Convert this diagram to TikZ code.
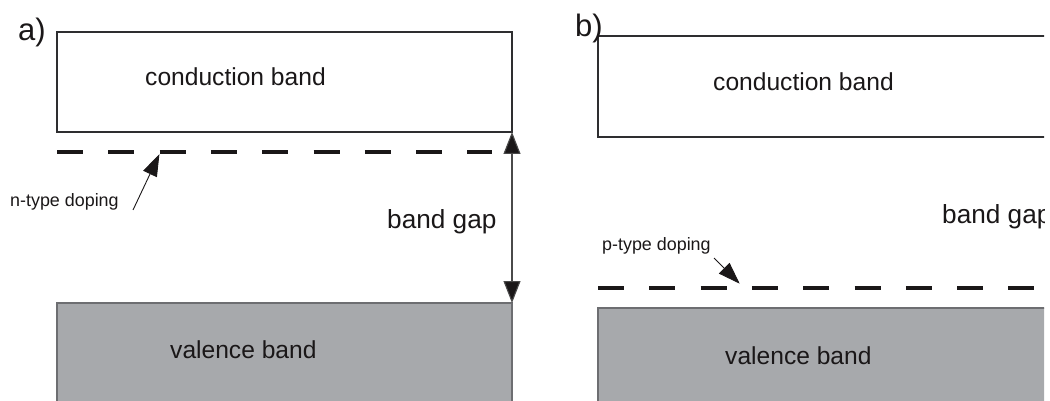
\documentclass[tikz,border=0pt]{standalone}
\usepackage{fontspec}
\setmainfont{Liberation Sans}
\usetikzlibrary{arrows.meta}
\definecolor{ink}{HTML}{1A1718}
\definecolor{boxline}{HTML}{2E2E30}
\definecolor{valfill}{HTML}{A7A9AC}
\definecolor{valline}{HTML}{6D6E71}
\definecolor{arrowline}{HTML}{4A4A4A}
\tikzset{
  txt/.style={inner sep=0pt, anchor=base west, text=ink},
  bigtxt/.style={txt, font=\fontsize{24.6}{29}\selectfont},
  gaptxt/.style={txt, font=\fontsize{26.2}{30}\selectfont},
  smalltxt/.style={txt, font=\fontsize{17.9}{21}\selectfont},
  paneltxt/.style={txt, font=\fontsize{31}{36}\selectfont},
  condbox/.style={draw=boxline, line width=1.1pt, fill=white},
  valbox/.style={draw=valline, line width=1.1pt, fill=valfill},
  dopeline/.style={draw=ink, line width=4.6pt, dash pattern=on 26pt off 25.3pt},
  gaparrow/.style={draw=arrowline, line width=1.1pt, {Triangle[length=22pt,width=17pt,fill=ink]}-{Triangle[length=22pt,width=17pt,fill=ink]}},
  pointer/.style={draw=ink, line width=0.9pt, -{Triangle[length=22pt,width=15pt,fill=ink]}, shorten >=-1pt}
}
\begin{document}
\begin{tikzpicture}[x=1pt,y=-1pt]
\useasboundingbox (0,0) rectangle (1050,401);
\begin{scope}
\clip (0,0) rectangle (1044,401);
% panel a
\path[condbox] (57,32) rectangle (512,132);
\coordinate (cbA) at (512,132);
\path[valbox] (57,303) rectangle (512,420);
\coordinate (vbA) at (512,303);
\node[paneltxt] (labA) at (18,41) {a)};
\node[bigtxt] (condA) at (145,86) {conduction band};
\node[bigtxt] (valA) at (170,358) {valence band};
\node[gaptxt] (gapA) at (387,229) {band gap};
\node[smalltxt] (nTxt) at (10,207) {n-type doping};
\coordinate (dA1) at (57,152);
\coordinate (dA2) at (492,152);
\path[dopeline] (dA1) -- (dA2);
\coordinate (nTail) at (133,210);
\coordinate (nTip) at (159,155);
\draw[pointer] (nTail) -- (nTip);
\draw[gaparrow] (cbA) -- (vbA);
% panel b
\path[condbox] (598,36) rectangle (1070,137);
\path[valbox] (598,308) rectangle (1070,420);
\node[paneltxt] (labB) at (575,37) {b)};
\node[bigtxt] (condB) at (713,91) {conduction band};
\node[bigtxt] (valB) at (725,364) {valence band};
\node[gaptxt] (gapB) at (942,223) {band gap};
\node[smalltxt] (pTxt) at (602,250) {p-type doping};
\coordinate (dB1) at (598,288);
\coordinate (dB2) at (1060,288);
\path[dopeline] (dB1) -- (dB2);
\coordinate (pTail) at (714,258);
\coordinate (pTip) at (739,283);
\draw[pointer] (pTail) -- (pTip);
\end{scope}
\end{tikzpicture}
\end{document}
